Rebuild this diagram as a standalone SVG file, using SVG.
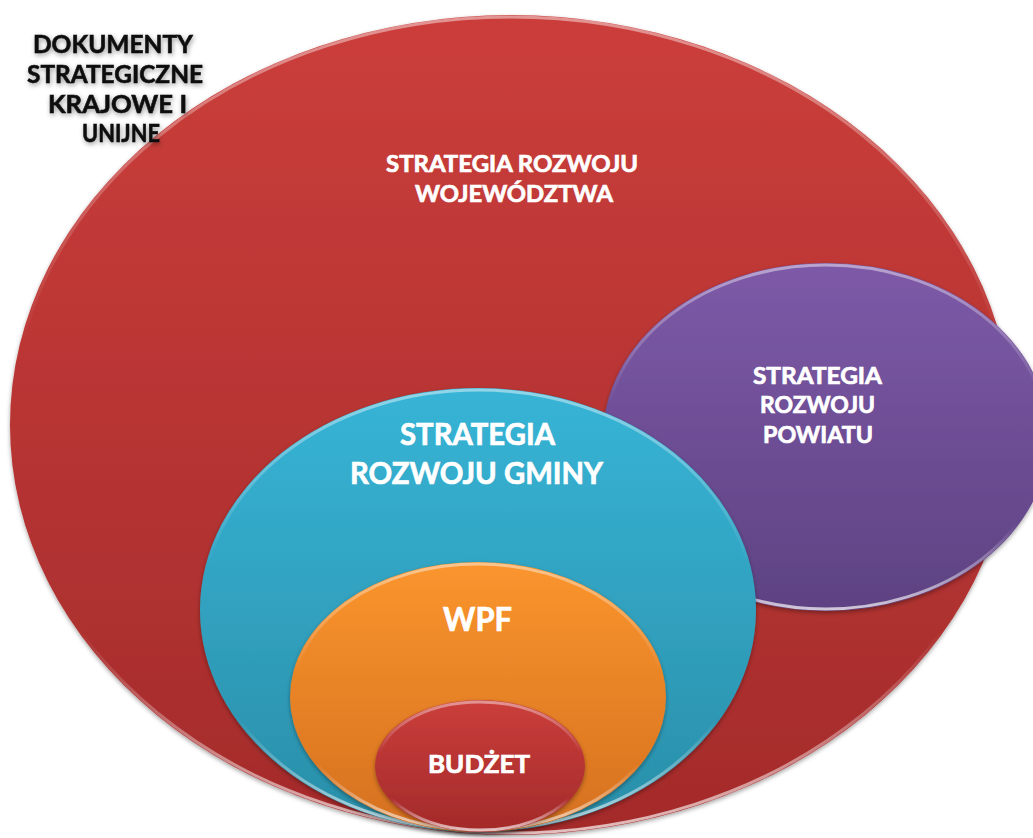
<svg xmlns="http://www.w3.org/2000/svg" width="1033" height="838" viewBox="0 0 1033 838">
<style>
.lbl{font-family:Lato,"Open Sans","Liberation Sans",sans-serif;font-weight:bold;fill:#ffffff;stroke:#ffffff;stroke-width:0.7}
.blk{font-family:Lato,"Open Sans","Liberation Sans",sans-serif;font-weight:bold;fill:#111111;stroke:#111111;stroke-width:0.6;font-size:25px}
.rim{fill:none;stroke-width:3}
</style>
<defs>
<linearGradient id="gRed" x1="0" y1="0" x2="0" y2="1"><stop offset="0" stop-color="#cb3e3b"/><stop offset="1" stop-color="#a42b2b"/></linearGradient>
<linearGradient id="gPur" x1="0" y1="0" x2="0" y2="1"><stop offset="0" stop-color="#7d5aa8"/><stop offset="1" stop-color="#5e4282"/></linearGradient>
<linearGradient id="gTeal" x1="0" y1="0" x2="0" y2="1"><stop offset="0" stop-color="#37b4d6"/><stop offset="1" stop-color="#2a8ea8"/></linearGradient>
<linearGradient id="gOr" x1="0" y1="0" x2="0" y2="1"><stop offset="0" stop-color="#fa952e"/><stop offset="1" stop-color="#d5701f"/></linearGradient>
<linearGradient id="gRed2" x1="0" y1="0" x2="0" y2="1"><stop offset="0" stop-color="#cb3e3b"/><stop offset="1" stop-color="#a32a2a"/></linearGradient>
<linearGradient id="rimW" x1="0" y1="0" x2="0" y2="1"><stop offset="0" stop-color="#ffffff" stop-opacity="0.45"/><stop offset="0.4" stop-color="#ffffff" stop-opacity="0"/><stop offset="0.75" stop-color="#ffffff" stop-opacity="0"/><stop offset="1" stop-color="#ffffff" stop-opacity="0.7"/></linearGradient>
<filter id="sh" x="-10%" y="-10%" width="120%" height="120%"><feDropShadow dx="0" dy="2" stdDeviation="2" flood-color="#000" flood-opacity="0.35"/></filter>
<filter id="tsh" x="-20%" y="-30%" width="140%" height="160%"><feDropShadow dx="1" dy="2" stdDeviation="2.5" flood-color="#000" flood-opacity="0.4"/></filter>
</defs>
<rect width="1033" height="838" fill="#ffffff"/>
<g id="wojewodztwo">
<ellipse cx="511" cy="425" rx="501" ry="410" fill="url(#gRed)" filter="url(#sh)"/>
<ellipse class="rim" cx="511" cy="425" rx="499" ry="408" stroke="url(#rimW)"/>
<text class="lbl" font-size="23"><tspan x="386" y="172" textLength="252" lengthAdjust="spacingAndGlyphs">STRATEGIA ROZWOJU</tspan><tspan x="415" y="202" textLength="198" lengthAdjust="spacingAndGlyphs">WOJEWÓDZTWA</tspan></text>
</g>
<g id="krajowe">
<text class="blk" filter="url(#tsh)"><tspan x="33" y="53" textLength="160" lengthAdjust="spacingAndGlyphs">DOKUMENTY</tspan><tspan x="27" y="83" textLength="176" lengthAdjust="spacingAndGlyphs">STRATEGICZNE</tspan><tspan x="48" y="113" textLength="139" lengthAdjust="spacingAndGlyphs">KRAJOWE I</tspan><tspan x="82" y="142" textLength="78" lengthAdjust="spacingAndGlyphs">UNIJNE</tspan></text>
</g>
<g id="powiat">
<ellipse cx="826" cy="437" rx="223" ry="174" fill="url(#gPur)" filter="url(#sh)"/>
<ellipse class="rim" cx="826" cy="437" rx="221" ry="172" stroke="url(#rimW)"/>
<text class="lbl" font-size="23"><tspan x="753" y="384" textLength="129" lengthAdjust="spacingAndGlyphs">STRATEGIA</tspan><tspan x="760" y="413" textLength="115" lengthAdjust="spacingAndGlyphs">ROZWOJU</tspan><tspan x="763" y="443" textLength="110" lengthAdjust="spacingAndGlyphs">POWIATU</tspan></text>
</g>
<g id="gmina">
<ellipse cx="478" cy="610" rx="278" ry="222" fill="url(#gTeal)" filter="url(#sh)"/>
<ellipse class="rim" cx="478" cy="610" rx="276" ry="220" stroke="url(#rimW)"/>
<text class="lbl" font-size="31"><tspan x="400" y="445" textLength="155" lengthAdjust="spacingAndGlyphs">STRATEGIA</tspan><tspan x="350" y="484" textLength="253" lengthAdjust="spacingAndGlyphs">ROZWOJU GMINY</tspan></text>
</g>
<g id="wpf">
<ellipse cx="478" cy="697" rx="188" ry="135" fill="url(#gOr)" filter="url(#sh)"/>
<ellipse class="rim" cx="478" cy="697" rx="186" ry="133" stroke="url(#rimW)"/>
<text class="lbl" font-size="32" x="443" y="631" textLength="69" lengthAdjust="spacingAndGlyphs">WPF</text>
</g>
<g id="budzet">
<ellipse cx="480" cy="766" rx="105" ry="66" fill="url(#gRed2)" filter="url(#sh)"/>
<ellipse class="rim" cx="480" cy="766" rx="103" ry="64" stroke="url(#rimW)"/>
<text class="lbl" font-size="25" x="428" y="773" textLength="102" lengthAdjust="spacingAndGlyphs">BUDŻET</text>
</g>
<g id="connectors"/>
</svg>
